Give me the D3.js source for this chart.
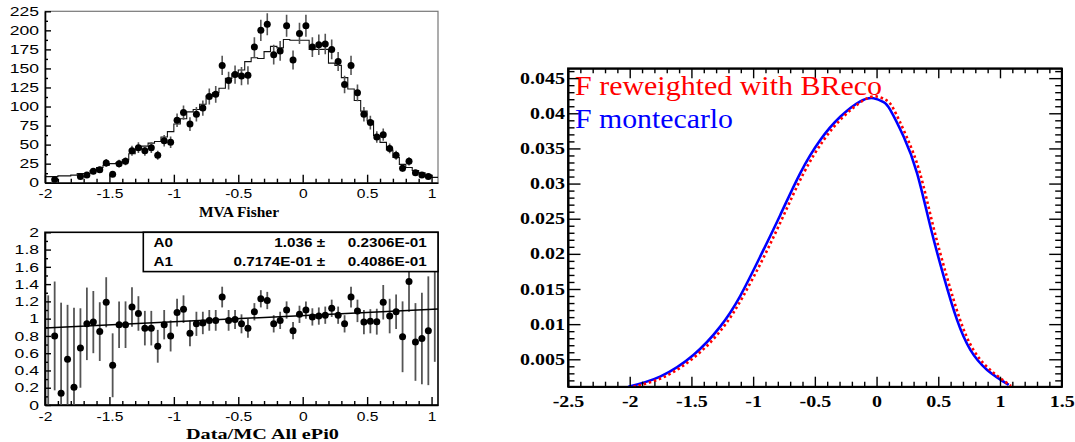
<!DOCTYPE html>
<html><head><meta charset="utf-8">
<script src="https://cdn.jsdelivr.net/npm/d3@7"></script>
<style>body{margin:0;background:#fff}svg{display:block}</style>
</head><body>
<svg id="c" width="1075" height="442"></svg>
<script>
// ---------------- data ----------------
const binCenters = [-1.975,-1.925,-1.875,-1.825,-1.775,-1.725,-1.675,-1.625,-1.575,-1.525,
 -1.475,-1.425,-1.375,-1.325,-1.275,-1.225,-1.175,-1.125,-1.075,-1.025,
 -0.975,-0.925,-0.875,-0.825,-0.775,-0.725,-0.675,-0.625,-0.575,-0.525,
 -0.475,-0.425,-0.375,-0.325,-0.275,-0.225,-0.175,-0.125,-0.075,-0.025,
 0.025,0.075,0.125,0.175,0.225,0.275,0.325,0.375,0.425,0.475,
 0.525,0.575,0.625,0.675,0.725,0.775,0.825,0.875,0.925,0.975,1.025];
const mcCounts = [8,8,9,9,10,12,12,16,20,23,
 25,26,30,38,44,48,52,54,60,67,
 77,84,93,96,103,114,118,124,137,143,
 148,159,164,163,172,179,177,188,187,187,
 187,175,175,175,157,154,138,123,108,94,
 81,62,53,43,33,24,20,16,13,10,7];
const dataCounts = [null,4,null,null,null,8,10,15,17,26,
 11,25,28,42,46,42,46,36,55,53,
 82,92,77,90,98,113,116,154,134,142,
 140,141,178,200,208,168,173,206,161,196,
 206,178,181,182,175,159,129,154,118,90,
 79,60,63,45,36,19,28,13,10,8,null];
const dataErrors = [null,2,null,null,null,3,3,4,4,5,
 3,5,5,6.5,7,6.5,7,6,7.5,7.5,
 9,9.5,9,9.5,10,10.5,11,12.5,11.5,12,
 12,12,13,14,14.5,13,13,14.5,12.5,14,
 14.5,13,13.5,13.5,13,12.5,11.5,12.5,11,9.5,
 9,7.5,8,6.5,6,4.5,5.5,3.5,3,3,null];
const ratioValues = [null,0.80,0.135,0.53,0.205,0.66,0.94,0.96,0.85,1.19,
 0.46,0.93,0.93,1.135,1.06,0.89,0.89,0.68,0.93,0.80,
 1.07,1.11,0.83,0.94,0.95,0.98,0.98,1.25,0.98,0.99,
 0.94,0.89,1.08,1.23,1.21,0.94,0.98,1.10,0.86,1.05,
 1.10,1.02,1.03,1.04,1.12,1.04,0.94,1.25,1.09,0.96,
 0.97,0.965,1.19,1.03,1.08,0.79,1.43,0.73,0.77,0.86,null];
const ratioErrors = [null,0.63,1.05,0.63,0.92,0.46,0.42,0.36,0.34,0.29,
 0.37,0.27,0.27,0.23,0.2,0.2,0.2,0.19,0.17,0.18,
 0.16,0.16,0.15,0.14,0.13,0.12,0.12,0.12,0.12,0.11,
 0.11,0.11,0.1,0.1,0.1,0.1,0.1,0.1,0.1,0.1,
 0.1,0.1,0.1,0.1,0.1,0.1,0.1,0.12,0.13,0.14,
 0.14,0.15,0.2,0.2,0.2,0.41,0.35,0.45,0.53,0.63,null];
// error bars drawn without a marker
const orphanBarX = [-1.975, 1.025];
const orphanBarLo = [0, 0.5];
const orphanBarHi = [1.27, 1.66];
// fit line end points (pol1 fit)
const fitLineX = [-2, 1.05];
const fitLineY = [0.893, 1.111];
const statsNames = ["A0", "A1"];
const statsValues = ["1.036 \u00b1", "0.7174E-01 \u00b1"];
const statsErrors = ["0.2306E-01", "0.4086E-01"];

const topXTicks = [-2,-1.5,-1,-0.5,0,0.5,1];
const topYTicks = [0,25,50,75,100,125,150,175,200,225];
const ratioYTicks = [0,0.2,0.4,0.6,0.8,1,1.2,1.4,1.6,1.8,2];
const xTitleTop = "MVA Fisher";
const xTitleBottom = "Data/MC All ePi0";

const rightXTicks = [-2.5,-2,-1.5,-1,-0.5,0,0.5,1,1.5];
const rightYTicks = [0.005,0.01,0.015,0.02,0.025,0.03,0.035,0.04,0.045];
const blueX = [-2.011,-1.754,-1.484,-1.267,-1.105,-0.943,-0.781,-0.618,-0.456,-0.294,-0.132,-0.024,0.057,0.111,0.219,0.328,0.436,0.544,0.652,0.760,0.896,1.071];
const blueY = [0.0011,0.00254,0.00562,0.00965,0.0140,0.0196,0.0255,0.0315,0.0362,0.0395,0.0417,0.04215,0.0416,0.0405,0.0367,0.0315,0.0239,0.0168,0.0106,0.00634,0.00349,0.00135];
const redX = [-1.97,-1.72,-1.455,-1.24,-1.08,-0.915,-0.755,-0.593,-0.432,-0.27,-0.11,-0.005,0.075,0.135,0.24,0.35,0.458,0.567,0.675,0.783,0.92,1.09];
const redY = [0.0011,0.0025,0.0056,0.0096,0.0140,0.0195,0.0254,0.0314,0.0361,0.0395,0.0418,0.0424,0.0419,0.0407,0.0368,0.0316,0.024,0.0169,0.0107,0.0064,0.0035,0.0012];
const legendLabels = ["F reweighted with BReco", "F montecarlo"];
const legendColors = ["#ff0000", "#0000ff"];

// ---------------- drawing ----------------
const svg = d3.select("#c");
const TL = {x0:45, x1:438, y0:182.7, y1:11.3};
const BL = {x0:45, x1:438, y0:405, y1:232.3};
const RP = {x0:568, x1:1061.7, y0:386.7, y1:68.3};

const xTop = d3.scaleLinear().domain([-2,1.05]).range([TL.x0,TL.x1]);
const yTop = d3.scaleLinear().domain([0,225]).range([TL.y0,TL.y1]);
const xBot = d3.scaleLinear().domain([-2,1.05]).range([BL.x0,BL.x1]);
const yBot = d3.scaleLinear().domain([0,2]).range([BL.y0,BL.y1]);
const xR = d3.scaleLinear().domain([-2.5,1.5]).range([RP.x0,RP.x1]);
const yR = d3.scaleLinear().domain([0.0011,0.0464]).range([RP.y0,RP.y1]);

const defs = svg.append("defs");
function clip(id, P){
  defs.append("clipPath").attr("id",id).append("rect")
    .attr("x",P.x0).attr("y",P.y1).attr("width",P.x1-P.x0).attr("height",P.y0-P.y1);
}
clip("cTL",TL); clip("cBL",BL); clip("cR",RP);

function stretch(g, sx){
  g.selectAll("text").each(function(){
    const t=d3.select(this); const x=+t.attr("x")||0;
    t.attr("x", x/sx).attr("transform", `scale(${sx},1)`);
  });
}
function stretchedText(x, y, sx, txt){
  return svg.append("text").attr("transform",`translate(${x},${y}) scale(${sx},1)`).text(txt);
}
const fmt = d => String(d);

// ===== top-left panel =====
svg.append("rect").attr("x",TL.x0).attr("y",TL.y1).attr("width",TL.x1-TL.x0).attr("height",TL.y0-TL.y1)
  .attr("fill","none").attr("stroke","#777").attr("stroke-width",1.2);
const half = (binCenters[1]-binCenters[0])/2;
const stepPts = binCenters.map((c,i)=>[c-half, mcCounts[i]]);
stepPts.push([binCenters[binCenters.length-1]+half, mcCounts[mcCounts.length-1]]);
svg.append("path").attr("clip-path","url(#cTL)")
  .attr("d", d3.line().x(d=>xTop(d[0])).y(d=>yTop(d[1])).curve(d3.curveStepAfter)(stepPts))
  .attr("fill","none").attr("stroke","#111").attr("stroke-width",1.1);
const topPts = binCenters.map((c,i)=>({x:c,y:dataCounts[i],e:dataErrors[i]})).filter(d=>d.y!==null);
const gTop = svg.append("g").attr("clip-path","url(#cTL)");
gTop.selectAll("line.eb").data(topPts).join("line")
  .attr("x1",d=>xTop(d.x)).attr("x2",d=>xTop(d.x))
  .attr("y1",d=>yTop(d.y-d.e)).attr("y2",d=>yTop(d.y+d.e))
  .attr("stroke","#555").attr("stroke-width",1.6);
gTop.selectAll("circle").data(topPts).join("circle")
  .attr("cx",d=>xTop(d.x)).attr("cy",d=>yTop(d.y)).attr("r",3.5).attr("fill","#000");

function leftPanelAxes(P, xs, ys, yticks, yminor, xminor){
  const gx = svg.append("g").attr("transform",`translate(0,${P.y0})`)
    .call(d3.axisBottom(xs).tickValues(topXTicks).tickFormat(fmt).tickSize(-8).tickPadding(6.5).tickSizeOuter(0));
  svg.append("g").attr("transform",`translate(0,${P.y0})`)
    .call(d3.axisBottom(xs).tickValues(xminor).tickFormat("").tickSize(-4).tickSizeOuter(0))
    .select(".domain").remove();
  const gy = svg.append("g").attr("transform",`translate(${P.x0},0)`)
    .call(d3.axisLeft(ys).tickValues(yticks).tickFormat(fmt).tickSize(-6).tickPadding(6).tickSizeOuter(0));
  svg.append("g").attr("transform",`translate(${P.x0},0)`)
    .call(d3.axisLeft(ys).tickValues(yminor).tickFormat("").tickSize(-3).tickSizeOuter(0))
    .select(".domain").remove();
  [[gx,1.2],[gy,1.35]].forEach(([g,sx])=>{
    g.select(".domain").attr("stroke","#000").attr("stroke-width",1.6);
    g.selectAll("text").attr("font-family","Liberation Sans, Arial, sans-serif").attr("font-size",13).attr("fill","#000");
    stretch(g,sx);
  });
  svg.selectAll("g.tick line").attr("stroke","#000");
}
const xMinor = d3.range(-20,11).map(i=>i/10).filter(v=>!topXTicks.includes(v));
leftPanelAxes(TL, xTop, yTop, topYTicks, topYTicks.map(v=>v+12.5).filter(v=>v<225), xMinor);
svg.append("text").attr("x",239).attr("y",217).attr("text-anchor","middle")
  .attr("font-family","Liberation Serif, Times New Roman, serif").attr("font-weight","bold").attr("font-size",15)
  .attr("textLength",80).attr("lengthAdjust","spacingAndGlyphs").text(xTitleTop);

// ===== bottom-left panel =====
svg.append("rect").attr("x",BL.x0).attr("y",BL.y1).attr("width",BL.x1-BL.x0).attr("height",BL.y0-BL.y1)
  .attr("fill","none").attr("stroke","#000").attr("stroke-width",1.6);
const gBot = svg.append("g").attr("clip-path","url(#cBL)");
gBot.selectAll("line.ob").data(orphanBarX).join("line").attr("class","ob")
  .attr("x1",d=>xBot(d)).attr("x2",d=>xBot(d))
  .attr("y1",(d,i)=>yBot(orphanBarLo[i])).attr("y2",(d,i)=>yBot(orphanBarHi[i]))
  .attr("stroke","#555").attr("stroke-width",1.8);
const botPts = binCenters.map((c,i)=>({x:c,y:ratioValues[i],e:ratioErrors[i]})).filter(d=>d.y!==null);
gBot.selectAll("line.eb").data(botPts).join("line").attr("class","eb")
  .attr("x1",d=>xBot(d.x)).attr("x2",d=>xBot(d.x))
  .attr("y1",d=>yBot(d.y-d.e)).attr("y2",d=>yBot(d.y+d.e))
  .attr("stroke","#555").attr("stroke-width",1.8);
gBot.append("line").attr("x1",xBot(fitLineX[0])).attr("x2",xBot(fitLineX[1]))
  .attr("y1",yBot(fitLineY[0])).attr("y2",yBot(fitLineY[1])).attr("stroke","#000").attr("stroke-width",1.5);
gBot.selectAll("circle").data(botPts).join("circle")
  .attr("cx",d=>xBot(d.x)).attr("cy",d=>yBot(d.y)).attr("r",3.5).attr("fill","#000");
leftPanelAxes(BL, xBot, yBot, ratioYTicks, ratioYTicks.map(v=>v+0.1).filter(v=>v<2), xMinor);
svg.append("text").attr("x",262.5).attr("y",439).attr("text-anchor","middle")
  .attr("font-family","Liberation Serif, Times New Roman, serif").attr("font-weight","bold").attr("font-size",15)
  .attr("textLength",153).attr("lengthAdjust","spacingAndGlyphs").text(xTitleBottom);
// stats box
svg.append("rect").attr("x",143.3).attr("y",BL.y1).attr("width",BL.x1-143.3).attr("height",39.3)
  .attr("fill","#fff").attr("stroke","#000").attr("stroke-width",1.6);
statsNames.forEach((n,i)=>{
  const y = 246.5 + i*19.3;
  const f = t=>t.attr("font-family","Liberation Sans, Arial, sans-serif").attr("font-weight","bold").attr("font-size",12.5);
  f(stretchedText(153.5, y, 1.22, n));
  f(stretchedText(325, y, 1.22, statsValues[i]).attr("text-anchor","end"));
  f(stretchedText(426.7, y, 1.22, statsErrors[i]).attr("text-anchor","end"));
});

// ===== right panel =====
svg.append("rect").attr("x",RP.x0).attr("y",RP.y1).attr("width",RP.x1-RP.x0).attr("height",RP.y0-RP.y1)
  .attr("fill","none").attr("stroke","#000").attr("stroke-width",1.8);
const lineR = d3.line().x(d=>xR(d[0])).y(d=>yR(d[1])).curve(d3.curveNatural);
const gR = svg.append("g").attr("clip-path","url(#cR)");
gR.append("path").attr("d", lineR(blueX.map((x,i)=>[x,blueY[i]])))
  .attr("fill","none").attr("stroke",legendColors[1]).attr("stroke-width",2.6);
gR.append("path").attr("d", lineR(redX.map((x,i)=>[x,redY[i]])))
  .attr("fill","none").attr("stroke",legendColors[0]).attr("stroke-width",2.6).attr("stroke-dasharray","2.5,2.8");

const rxMinor = d3.range(-25,16).map(i=>i/10).filter(v=>!rightXTicks.includes(v));
const ryMinor = d3.range(2,47).map(i=>i/1000).filter(v=>!rightYTicks.some(t=>Math.abs(t-v)<1e-9));
const gRx = svg.append("g").attr("transform",`translate(0,${RP.y0})`)
  .call(d3.axisBottom(xR).tickValues(rightXTicks).tickFormat(fmt).tickSize(-10).tickPadding(9).tickSizeOuter(0));
svg.append("g").attr("transform",`translate(0,${RP.y0})`)
  .call(d3.axisBottom(xR).tickValues(rxMinor).tickFormat("").tickSize(-5).tickSizeOuter(0));
svg.append("g").attr("transform",`translate(0,${RP.y1})`)
  .call(d3.axisTop(xR).tickValues(rightXTicks).tickFormat("").tickSize(-10).tickSizeOuter(0));
svg.append("g").attr("transform",`translate(0,${RP.y1})`)
  .call(d3.axisTop(xR).tickValues(rxMinor).tickFormat("").tickSize(-5).tickSizeOuter(0));
const gRy = svg.append("g").attr("transform",`translate(${RP.x0},0)`)
  .call(d3.axisLeft(yR).tickValues(rightYTicks).tickFormat(fmt).tickSize(-12.5).tickPadding(3).tickSizeOuter(0));
svg.append("g").attr("transform",`translate(${RP.x0},0)`)
  .call(d3.axisLeft(yR).tickValues(ryMinor).tickFormat("").tickSize(-6.5).tickSizeOuter(0));
svg.append("g").attr("transform",`translate(${RP.x1},0)`)
  .call(d3.axisRight(yR).tickValues(rightYTicks).tickFormat("").tickSize(-12.5).tickSizeOuter(0));
svg.append("g").attr("transform",`translate(${RP.x1},0)`)
  .call(d3.axisRight(yR).tickValues(ryMinor).tickFormat("").tickSize(-6.5).tickSizeOuter(0));
svg.selectAll("g.tick line").attr("stroke","#000").attr("stroke-width",1.4);
svg.selectAll(".domain").attr("stroke","#000").attr("stroke-width",1.6);
[gRx,gRy].forEach(g=>{
  g.selectAll("text").attr("font-family","Liberation Serif, Times New Roman, serif").attr("font-weight","bold")
    .attr("font-size",16).attr("fill","#000");
  stretch(g,1.25);
});
legendLabels.forEach((t,i)=>{
  svg.append("text").attr("x",575).attr("y",95+i*33.3)
    .attr("font-family","Liberation Serif, Times New Roman, serif").attr("font-size",27)
    .attr("fill",legendColors[i])
    .attr("textLength", i===0?307:158).attr("lengthAdjust","spacingAndGlyphs").text(t);
});
</script>
</body></html>
